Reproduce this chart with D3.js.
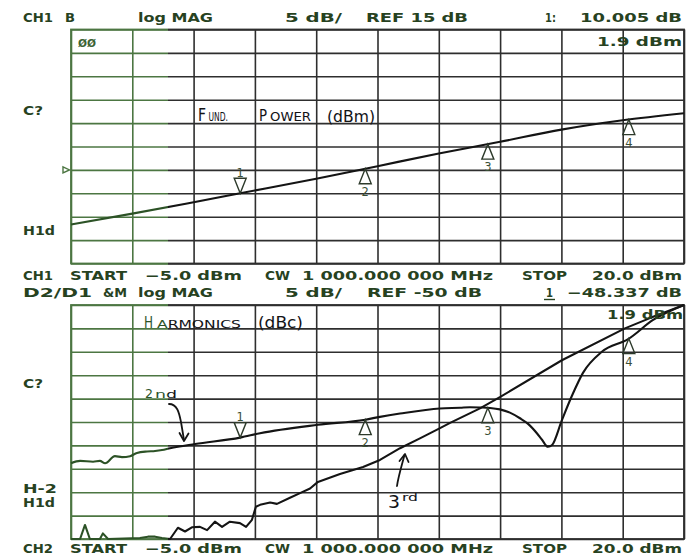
<!DOCTYPE html>
<html>
<head>
<meta charset="utf-8">
<script src="https://cdn.jsdelivr.net/npm/d3@7"></script>
<style>
  html, body { margin: 0; padding: 0; background: #ffffff; }
  svg { display: block; }
</style>
</head>
<body>
<svg id="chart" width="687" height="558"></svg>
<script>
// ---- sweep (input power, dBm) ----
const sweepStart = -5.0;
const sweepStop = 20.0;
const sweepStep = 2.5;

// ---- channel 1: fundamental output power (dBm) ----
const fundIn  = [-5, -2.5, 0, 1.9, 5, 7.5, 10, 12.5, 15, 17.5, 20];
const fundOut = [3.35, 5.65, 8.1, 10.005, 13.1, 15.8, 18.5, 21.0, 23.6, 25.6, 27.1];

// ---- channel 2: harmonics relative to carrier (dBc) ----
const h2In = [-5.0, -4.63, -4.10, -3.82, -3.61, -3.21, -2.92, -2.59, -2.31, -1.90, -1.57, -1.29,
              -0.96, 0.06, 1.9, 2.71, 5.07, 7.0, 7.60, 8.42, 10.05, 10.87, 11.27, 11.68, 12.09,
              12.49, 12.90, 13.31, 13.64, 14.0, 14.21, 14.45, 14.62, 15.02, 15.43, 15.88, 16.65,
              17.72, 18.74, 20.0];
const h2Db = [-53.8, -53.3, -53.5, -53.3, -53.8, -52.3, -52.5, -52.3, -51.6, -51.3, -51.2, -51.0,
              -50.6, -49.7, -48.337, -47.4, -45.6, -44.5, -43.9, -43.2, -42.1, -41.95, -41.85, -41.9,
              -42.0, -42.3, -43.0, -44.2, -45.4, -47.4, -48.8, -50.3, -49.9, -44.6, -39.4, -34.5,
              -30.0, -27.3, -23.2, -20.0];

const h3In = [-5.0, -4.63, -4.43, -4.23, -3.82, -3.70, -3.49, -2.19, -1.86, -1.57, -1.29, -0.96,
              -0.64, -0.35, -0.07, 0.26, 0.55, 0.87, 1.16, 1.48, 1.89, 2.14, 2.38, 2.54, 2.71,
              3.12, 3.40, 3.93, 4.34, 4.75, 5.07, 5.97, 6.91, 7.60, 8.42, 9.23, 10.05, 10.46,
              11.68, 12.49, 15.02, 17.59, 18.61, 20.0];
const h3Db = [-70, -70, -67.0, -70, -70, -68.8, -70, -69.8, -69.5, -69.5, -69.8, -70,
              -67.6, -68.4, -67.5, -67.4, -68.1, -66.3, -67.4, -66.3, -66.6, -67.4, -65.9, -63.1, -62.7,
              -62.2, -62.5, -61.2, -60.2, -59.2, -57.8, -56.1, -54.6, -53.1, -50.6, -48.5, -46.3, -45.2,
              -42.1, -39.7, -31.8, -25.0, -22.8, -20.0];

// ---- markers (stimulus, dBm) ----
const markerIn = [1.9, 7.0, 12.0, 17.75];
const markerNames = ["1", "2", "3", "4"];

// ---- display settings ----
const perDiv = 5;
const ch1Ref = 15;
const ch2Ref = -50;
const divisions = 10;
const refDivFromTop = 6;

// ---- printed annotation text ----
const cwText = "1 000.000 000 MHz";
const ch1Side = ["C?", "H1d"];
const ch2Side = ["C?", "H-2", "H1d"];

// ===================================================================
const W = 687, H = 558;
const split = 168;                    // ink changes from green to black here
const svg = d3.select("#chart");
const textInk = "#27421f";
const fmt1 = d3.format(".1f");
const fmt3 = d3.format(".3f");

const valueAt = (xs, ys, v) => {
  const i = Math.min(Math.max(d3.bisectRight(xs, v), 1), xs.length - 1);
  const t = (v - xs[i - 1]) / (xs[i] - xs[i - 1]);
  return ys[i - 1] + t * (ys[i] - ys[i - 1]);
};

const x = d3.scaleLinear().domain([sweepStart, sweepStop]).range([71, 684]);
const y1 = d3.scaleLinear()
  .domain([ch1Ref - (divisions - refDivFromTop) * perDiv, ch1Ref + refDivFromTop * perDiv])
  .range([263.5, 29.5]);
const y2 = d3.scaleLinear()
  .domain([ch2Ref - (divisions - refDivFromTop) * perDiv, ch2Ref + refDivFromTop * perDiv])
  .range([539, 305]);

// two-tone inks (user space, so x positions decide the colour)
const defs = svg.append("defs");
function ink(id, left, right) {
  const g = defs.append("linearGradient").attr("id", id)
    .attr("gradientUnits", "userSpaceOnUse")
    .attr("x1", 0).attr("y1", 0).attr("x2", W).attr("y2", 0);
  g.append("stop").attr("offset", split / W).attr("stop-color", left);
  g.append("stop").attr("offset", split / W).attr("stop-color", right);
}
ink("gridInk", "#4c7642", "#2e2e2e");
ink("traceInk", "#2c5226", "#141414");

const xTicks = d3.range(sweepStart, sweepStop + 0.001, sweepStep);

function panel(y, id) {
  const [bottom, top] = y.range();
  const yTicks = d3.range(y.domain()[0], y.domain()[1] + 0.001, perDiv);

  // horizontal graticule
  const gy = svg.append("g")
    .call(d3.axisLeft(y).tickValues(yTicks).tickFormat("").tickSizeOuter(0));
  gy.select(".domain").remove();
  gy.selectAll(".tick line")
    .attr("x1", x.range()[0]).attr("x2", x.range()[1])
    .attr("stroke", "url(#gridInk)").attr("stroke-width", 1.6);

  // vertical graticule
  const gx = svg.append("g").attr("transform", `translate(0,${bottom})`)
    .call(d3.axisBottom(x).tickValues(xTicks).tickFormat("").tickSize(-(bottom - top)).tickSizeOuter(0));
  gx.select(".domain").remove();
  gx.selectAll(".tick line")
    .attr("stroke", d => x(d) < split ? "#4c7642" : "#2e2e2e")
    .attr("stroke-width", 1.6);

  svg.append("rect")
    .attr("x", x.range()[0]).attr("y", top)
    .attr("width", x.range()[1] - x.range()[0]).attr("height", bottom - top)
    .attr("fill", "none").attr("stroke", "url(#gridInk)").attr("stroke-width", 1.8);

  defs.append("clipPath").attr("id", id)
    .append("rect").attr("x", x.range()[0] - 1).attr("y", top - 1.5)
    .attr("width", x.range()[1] - x.range()[0] + 2).attr("height", bottom - top + 3);
}

function trace(y, xs, ys, clip, curve) {
  const line = d3.line().x(d => x(d[0])).y(d => y(d[1])).curve(curve);
  svg.append("path")
    .attr("d", line(xs.map((v, i) => [v, ys[i]])))
    .attr("clip-path", `url(#${clip})`)
    .attr("fill", "none").attr("stroke", "url(#traceInk)")
    .attr("stroke-width", 2.1).attr("stroke-linejoin", "round");
}

function markers(y, xs, ys) {
  markerIn.forEach((m, i) => {
    const px = x(m), py = y(valueAt(xs, ys, m));
    const down = i === 0;
    const h = 15, w = 6;
    const d = down
      ? `M${px},${py} L${px - w},${py - h} L${px + w},${py - h} Z`
      : `M${px},${py} L${px - w},${py + h} L${px + w},${py + h} Z`;
    svg.append("path").attr("d", d)
      .attr("fill", "none").attr("stroke", "#2d3a2b").attr("stroke-width", 1.4)
      .attr("stroke-linejoin", "miter");
    svg.append("text")
      .attr("x", px).attr("y", down ? py - h - 1.5 : py + h + 12)
      .attr("text-anchor", "middle")
      .attr("font-family", "DejaVu Sans").attr("font-size", 11.5)
      .attr("fill", "#3a4f36")
      .text(markerNames[i]);
  });
}

function printed(txt, x0, x1, base, size) {
  svg.append("text")
    .attr("x", x0).attr("y", base)
    .attr("textLength", x1 - x0).attr("lengthAdjust", "spacingAndGlyphs")
    .attr("font-family", "DejaVu Sans").attr("font-weight", "bold")
    .attr("font-size", size || 12.5).attr("fill", textInk)
    .text(txt);
}

// hand lettering: a tall initial followed by small capitals, as one text element
function hand(parts, base) {
  const t = svg.append("text").attr("y", base)
    .attr("font-family", "DejaVu Sans").attr("fill", "url(#traceInk)");
  parts.forEach(([txt, x0, x1, size, dy]) => {
    t.append("tspan")
      .attr("x", x0).attr("y", base + (dy || 0))
      .attr("font-size", size)
      .attr("textLength", x1 - x0).attr("lengthAdjust", "spacingAndGlyphs")
      .text(txt);
  });
}

// ---- panels ----
panel(y1, "clipTop");
panel(y2, "clipBottom");

trace(y1, fundIn, fundOut, "clipTop", d3.curveMonotoneX);
trace(y2, h2In, h2Db, "clipBottom", d3.curveMonotoneX);
trace(y2, h3In, h3Db, "clipBottom", d3.curveLinear);

markers(y1, fundIn, fundOut);
markers(y2, h2In, h2Db);

// reference position indicator, channel 1
const refY = y1(ch1Ref);
svg.append("path")
  .attr("d", `M63,${refY - 3} L69.5,${refY} L63,${refY + 3} Z`)
  .attr("fill", "none").attr("stroke", "#4c7642").attr("stroke-width", 1.4);

// ---- printed header / footer rows ----
const m1 = markerIn[0];
const m1Fund = valueAt(fundIn, fundOut, m1);
const m1H2 = valueAt(h2In, h2Db, m1);

const row1 = ["CH1", "B", "log MAG", `${perDiv} dB/`, `REF ${ch1Ref} dB`, "1:", `${fmt3(m1Fund)} dB`];
[[23, 53], [65, 75], [138, 213], [285, 342], [366, 468], [545, 556], [580, 682]]
  .forEach((s, i) => printed(row1[i], s[0], s[1], 22));

const stimRow = (ch) => [ch, "START", `${fmt1(sweepStart)} dBm`, "CW", cwText, "STOP", `${fmt1(sweepStop)} dBm`];
const stimSpans = [[23, 53], [70, 127], [145, 242], [265, 290], [302, 493], [522, 567], [592, 682]];
const r2 = stimRow("CH1");
stimSpans.forEach((s, i) => printed(r2[i], s[0], s[1], 280));
const r4 = stimRow("CH2");
stimSpans.forEach((s, i) => printed(r4[i], s[0], s[1], 553));

const row3 = ["D2/D1", "&M", "log MAG", `${perDiv} dB/`, `REF ${ch2Ref} dB`, "1", `${fmt3(m1H2)} dB`];
[[23, 92], [103, 127], [138, 213], [285, 342], [367, 482], [546, 553], [567, 682]]
  .forEach((s, i) => printed(row3[i], s[0], s[1], 297));
svg.append("line").attr("x1", 544).attr("x2", 555).attr("y1", 299.5).attr("y2", 299.5)
  .attr("stroke", textInk).attr("stroke-width", 1.4);

// side annotations
printed(ch1Side[0], 23, 43, 115);
printed(ch1Side[1], 23, 55, 235);
printed(ch2Side[0], 23, 43, 388);
printed(ch2Side[1], 23, 57, 493);
printed(ch2Side[2], 23, 55, 507);

// marker stimulus readouts inside the graticule
printed(`${fmt1(m1)} dBm`, 597, 682, 46, 12);
printed(`${fmt1(m1)} dBm`, 607, 683, 319, 12);
svg.append("text").attr("x", 78).attr("y", 47)
  .attr("textLength", 18).attr("lengthAdjust", "spacingAndGlyphs")
  .attr("font-family", "DejaVu Sans").attr("font-weight", "bold").attr("font-size", 10)
  .attr("fill", "#3b6233").text("ØØ");

// ---- hand-written labels ----
hand([["F", 198, 206, 17], ["UND.", 208.5, 228, 11.5], ["P", 259, 267, 16.5],
      ["OWER", 270, 311, 11.5], ["(dBm)", 327, 375, 15.5, 1]], 121);
hand([["H", 144, 153, 15], ["ARMONICS", 157, 241, 10.5], ["(dBc)", 258, 303, 15]], 328);
hand([["2", 145, 153, 13], ["nd", 155, 177, 10]], 398);
hand([["3", 388, 400, 17], ["rd", 402, 418, 10.5, -7]], 508);

// arrows pointing at the harmonic traces
const arrowInk = "url(#traceInk)";
svg.append("path")
  .attr("d", "M169,404 C177,404 179,412 181,422 L184,440")
  .attr("fill", "none").attr("stroke", arrowInk).attr("stroke-width", 1.8).attr("stroke-linecap", "round");
svg.append("path")
  .attr("d", "M179.5,433 L184,441 L188.5,433.5")
  .attr("fill", "none").attr("stroke", arrowInk).attr("stroke-width", 1.8)
  .attr("stroke-linecap", "round").attr("stroke-linejoin", "round");
svg.append("path")
  .attr("d", "M397,486 C398,478 401,468 404.5,455")
  .attr("fill", "none").attr("stroke", arrowInk).attr("stroke-width", 1.8).attr("stroke-linecap", "round");
svg.append("path")
  .attr("d", "M399.5,461 L405,454 L408.5,462")
  .attr("fill", "none").attr("stroke", arrowInk).attr("stroke-width", 1.8)
  .attr("stroke-linecap", "round").attr("stroke-linejoin", "round");
</script>
</body>
</html>
